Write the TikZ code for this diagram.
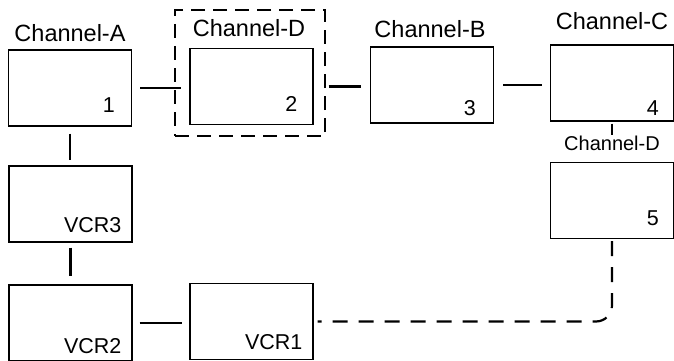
\documentclass[tikz,border=0pt]{standalone}
\usepackage{fontspec}
\setmainfont{Liberation Sans}
\usepackage{tikz}
\usetikzlibrary{positioning}
\tikzset{
  box/.style={draw,line width=1.2pt,minimum width=123pt,minimum height=76pt,inner sep=0pt},
  groupbox/.style={draw,line width=1.9pt,dash pattern=on 14pt off 8pt,minimum width=150pt,minimum height=126pt,inner sep=0pt},
  link/.style={line width=2.3pt},
  cable/.style={line width=2.2pt,dash pattern=on 15pt off 11pt,rounded corners=16pt},
  chlabel/.style={inner sep=0pt,font=\fontsize{23.5}{27}\selectfont},
  sublabel/.style={inner sep=0pt,font=\fontsize{20}{24}\selectfont},
  tag/.style={inner sep=0pt,anchor=south east,font=\fontsize{21.5}{25}\selectfont}
}
\begin{document}
\begin{tikzpicture}[x=1pt,y=-1pt]
\useasboundingbox (0,0) rectangle (674,361);
% channel boxes
\node[box] (b1) at (70,88) {};
\node[box] (b2) at (251.5,86.5) {};
\node[box] (b3) at (432,85) {};
\node[box] (b4) at (612,83) {};
\node[box] (b5) at (612,200.5) {};
\node[groupbox] (grp2) at (250,73) {};
% vcr boxes
\node[box] (v3) at (70.5,204) {};
\node[box] (v2) at (70.5,323) {};
\node[box] (v1) at (251.5,321.5) {};
% labels
\node[chlabel] (lab1) at (70,33) {Channel-A};
\node[chlabel] (lab2) at (249,28) {Channel-D};
\node[chlabel] (lab3) at (430,29) {Channel-B};
\node[chlabel] (lab4) at (612,21) {Channel-C};
\node[sublabel] (lab5) at (612,143) {Channel-D};
\node[tag] (n1) at ([xshift=-17pt,yshift=14pt]b1.south east) {1};
\node[tag] (n2) at ([xshift=-16pt,yshift=13pt]b2.south east) {2};
\node[tag] (n3) at ([xshift=-18pt,yshift=8pt]b3.south east) {3};
\node[tag] (n4) at ([xshift=-15pt,yshift=6pt]b4.south east) {4};
\node[tag] (n5) at ([xshift=-15pt,yshift=13pt]b5.south east) {5};
\node[tag] (n6) at ([xshift=-11pt,yshift=10pt]v3.south east) {VCR3};
\node[tag] (n7) at ([xshift=-11pt,yshift=8pt]v2.south east) {VCR2};
\node[tag] (n8) at ([xshift=-11pt,yshift=10pt]v1.south east) {VCR1};
% connections
\draw[link,shorten <=8pt,shorten >=8pt] (b1.east) -- (b1.east -| b2.west);
\draw[link,shorten <=15pt,shorten >=9pt] (b2.east) -- (b2.east -| b3.west);
\draw[link,shorten <=9pt,shorten >=8pt] (b3.east) -- (b3.east -| b4.west);
\draw[line width=1.3pt,shorten <=2pt] (b4.south) -- (lab5.north);
\draw[link,shorten <=7pt,shorten >=5pt] (b1.south) -- (b1.south |- v3.north);
\draw[link,shorten <=5pt,shorten >=8pt] (v3.south) -- (v3.south |- v2.north);
\draw[link,shorten <=7pt,shorten >=7pt] (v2.east) -- (v2.east -| v1.west);
\draw[cable,shorten <=2pt,shorten >=4pt] (b5.south) |- (v1.east);
\end{tikzpicture}
\end{document}
